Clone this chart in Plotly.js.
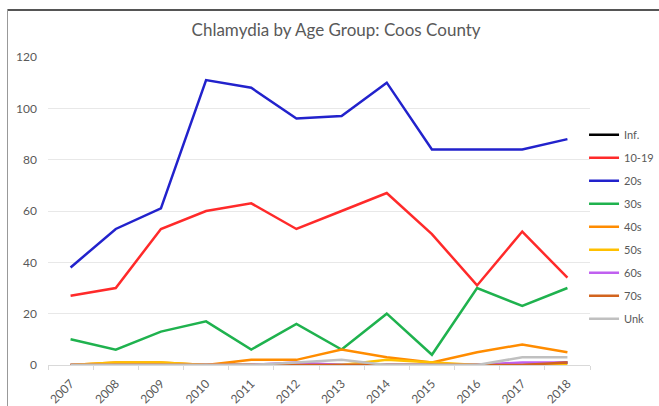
<!DOCTYPE html>
<html>
<head>
<meta charset="utf-8">
<script src="https://cdn.plot.ly/plotly-3.0.1.min.js"></script>
<style>
  html, body { margin: 0; padding: 0; background: #fff; }
  #wrap { position: relative; width: 659px; height: 406px; overflow: hidden; }
  #chart { position: absolute; left: 0; top: 0; width: 659px; height: 406px; }
  #bt { position: absolute; left: 7px; top: 9px; width: 652px; height: 2px; background: #555; z-index: 5; }
  #bl { position: absolute; left: 7px; top: 9px; width: 1px; height: 397px; background: #999; z-index: 5; }
</style>
</head>
<body>
<div id="wrap">
  <div id="chart"></div>
  <div id="bt"></div>
  <div id="bl"></div>
</div>
<script>
const years = ["2007","2008","2009","2010","2011","2012","2013","2014","2015","2016","2017","2018"];
const seriesNames = ["Inf.","10-19","20s","30s","40s","50s","60s","70s","Unk"];
const infVals   = [0,0,0,0,0,0,0,0,0,0,0,1];
const teenVals  = [27,30,53,60,63,53,60,67,51,31,52,34];
const twentiesVals = [38,53,61,111,108,96,97,110,84,84,84,88];
const thirtiesVals = [10,6,13,17,6,16,6,20,4,30,23,30];
const fortiesVals  = [0,1,1,0,2,2,6,3,1,5,8,5];
const fiftiesVals  = [0,1,1,0,0,0,0,2,1,0,0,0];
const sixtiesVals  = [0,0,0,0,0,1,0,0,0,0,1,1];
const seventiesVals = [0,0,0,0,0,0,0,0,0,0,0,1];
const unkVals   = [0,0,0,0,0,1,2,0,0,0,3,3];

const allVals = [infVals, teenVals, twentiesVals, thirtiesVals, fortiesVals, fiftiesVals, sixtiesVals, seventiesVals, unkVals];
const colors = ["#000000","#ff2a2a","#2222cc","#1fb24e","#ff8c00","#ffc000","#c060f0","#d2641e","#c0c0c0"];

const traces = seriesNames.map((n, i) => ({
  x: years,
  y: allVals[i],
  name: n,
  type: "scatter",
  mode: "lines",
  legendgroup: "g" + i,
  line: { color: colors[i], width: 2.5 }
}));

const layout = {
  width: 659,
  height: 406,
  margin: { l: 48, r: 69, t: 57, b: 41, autoexpand: false },
  paper_bgcolor: "#ffffff",
  plot_bgcolor: "#ffffff",
  font: { family: "Lato, 'Open Sans', sans-serif", color: "#595959", size: 12 },
  title: {
    text: "Chlamydia by Age Group: Coos County",
    font: { family: "Lato, 'Open Sans', sans-serif", size: 17, color: "#595959" },
    x: 0.51, xanchor: "center", y: 0.925, yanchor: "middle"
  },
  xaxis: {
    type: "category",
    range: [-0.5, 11.5],
    tickangle: -45,
    tickfont: { size: 12, color: "#595959" },
    showgrid: false,
    showline: true,
    linecolor: "#d9d9d9",
    linewidth: 1,
    ticks: "outside",
    ticklen: 4,
    tickcolor: "#d9d9d9",
    tickson: "boundaries",
    ticklabelstandoff: 6,
    zeroline: false
  },
  yaxis: {
    range: [0, 120],
    dtick: 20,
    tickfont: { size: 12, color: "#595959" },
    showgrid: true,
    gridcolor: "#e8e8e8",
    gridwidth: 1,
    zeroline: true,
    zerolinecolor: "#d9d9d9",
    showline: false,
    ticklabelstandoff: 10
  },
  showlegend: true,
  legend: {
    x: 0.989, xanchor: "left",
    y: 0.795, yanchor: "top",
    font: { size: 11, color: "#595959" },
    traceorder: "grouped",
    tracegroupgap: 4,
    itemwidth: 30,
    bgcolor: "rgba(0,0,0,0)"
  }
};

Plotly.newPlot("chart", traces, layout, { displayModeBar: false, staticPlot: true });
</script>
</body>
</html>
